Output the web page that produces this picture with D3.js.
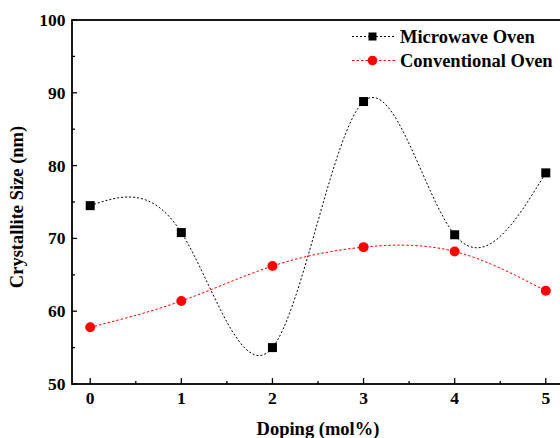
<!DOCTYPE html>
<html>
<head>
<meta charset="utf-8">
<script src="https://cdn.jsdelivr.net/npm/d3@7"></script>
<style>
  html, body { margin: 0; padding: 0; background: #fff; }
  svg { display: block; }
  text { font-family: "Liberation Serif", "Times New Roman", serif; font-weight: bold; fill: #000; }
</style>
</head>
<body>
<svg id="chart" width="560" height="438"></svg>
<script>
// Crystallite size versus doping level for two synthesis routes
const doping = [0, 1, 2, 3, 4, 5];
const microwave = [74.5, 70.8, 55.0, 88.8, 70.5, 79.0];
const conventional = [57.8, 61.4, 66.2, 68.8, 68.2, 62.8];
const xTicks = [0, 1, 2, 3, 4, 5];
const yTicks = [50, 60, 70, 80, 90, 100];
const seriesNames = ["Microwave Oven", "Conventional Oven"];

const svg = d3.select("#chart");
const plotLeft = 72, plotRight = 564, plotTop = 20, plotBottom = 384;
const tickFont = 17.5, titleFont = 18.5;

const x = d3.scaleLinear().domain([-0.2, 5.2]).range([plotLeft, plotRight]);
const y = d3.scaleLinear().domain([50, 100]).range([plotBottom, plotTop]);

// frame
svg.append("rect")
  .attr("x", plotLeft).attr("y", plotTop)
  .attr("width", plotRight - plotLeft).attr("height", plotBottom - plotTop)
  .attr("fill", "none").attr("stroke", "#000").attr("stroke-width", 1.8);

// y axis: major ticks inward with labels, minor ticks between
const yMinor = d3.range(55, 100, 10);
svg.append("g").selectAll("line").data(yTicks).join("line")
  .attr("x1", plotLeft).attr("x2", plotLeft + 5)
  .attr("y1", d => y(d)).attr("y2", d => y(d))
  .attr("stroke", "#000").attr("stroke-width", 1.3);
svg.append("g").selectAll("line").data(yMinor).join("line")
  .attr("x1", plotLeft).attr("x2", plotLeft + 3)
  .attr("y1", d => y(d)).attr("y2", d => y(d))
  .attr("stroke", "#000").attr("stroke-width", 1.3);
svg.append("g").selectAll("text").data(yTicks).join("text")
  .attr("x", plotLeft - 6.5).attr("y", d => y(d) + 6)
  .attr("text-anchor", "end").attr("font-size", tickFont)
  .text(d => d);

// x axis
const xMinor = d3.range(0.5, 5, 1);
svg.append("g").selectAll("line").data(xTicks).join("line")
  .attr("x1", d => x(d)).attr("x2", d => x(d))
  .attr("y1", plotBottom).attr("y2", plotBottom - 6)
  .attr("stroke", "#000").attr("stroke-width", 1.3);
svg.append("g").selectAll("line").data(xMinor).join("line")
  .attr("x1", d => x(d)).attr("x2", d => x(d))
  .attr("y1", plotBottom).attr("y2", plotBottom - 3)
  .attr("stroke", "#000").attr("stroke-width", 1.3);
svg.append("g").selectAll("text").data(xTicks).join("text")
  .attr("x", d => x(d)).attr("y", 404)
  .attr("text-anchor", "middle").attr("font-size", tickFont)
  .text(d => d);

// axis titles
svg.append("text")
  .attr("transform", "translate(23,207) rotate(-90)")
  .attr("text-anchor", "middle").attr("font-size", titleFont)
  .text("Crystallite Size (nm)");
svg.append("text")
  .attr("x", (plotLeft + plotRight) / 2).attr("y", 435)
  .attr("text-anchor", "middle").attr("font-size", titleFont)
  .text("Doping (mol%)");

// series
const line = d3.line().curve(d3.curveNatural).x(d => x(d[0])).y(d => y(d[1]));
const mwData = doping.map((d, i) => [d, microwave[i]]);
const cvData = doping.map((d, i) => [d, conventional[i]]);

svg.append("path").datum(mwData).attr("d", line)
  .attr("fill", "none").attr("stroke", "#000").attr("stroke-width", 1)
  .attr("stroke-dasharray", "2,2");
svg.append("path").datum(cvData).attr("d", line)
  .attr("fill", "none").attr("stroke", "#ff0000").attr("stroke-width", 1)
  .attr("stroke-dasharray", "2.5,2");

svg.append("g").selectAll("rect").data(mwData).join("rect")
  .attr("x", d => x(d[0]) - 4.5).attr("y", d => y(d[1]) - 4.5)
  .attr("width", 9).attr("height", 9).attr("fill", "#000");
svg.append("g").selectAll("circle").data(cvData).join("circle")
  .attr("cx", d => x(d[0])).attr("cy", d => y(d[1])).attr("r", 5)
  .attr("fill", "#ff0000");

// legend
const legend = svg.append("g");
const legendRows = [
  { name: seriesNames[0], color: "#000", dash: "2,2", marker: "square", y: 36.5 },
  { name: seriesNames[1], color: "#ff0000", dash: "2.5,2", marker: "circle", y: 60.5 }
];
legendRows.forEach(r => {
  legend.append("line")
    .attr("x1", 352).attr("x2", 396).attr("y1", r.y).attr("y2", r.y)
    .attr("stroke", r.color).attr("stroke-width", 1).attr("stroke-dasharray", r.dash);
  if (r.marker === "square") {
    legend.append("rect").attr("x", 368.5).attr("y", r.y - 4)
      .attr("width", 8).attr("height", 8).attr("fill", r.color);
  } else {
    legend.append("circle").attr("cx", 372.5).attr("cy", r.y).attr("r", 4.8).attr("fill", r.color);
  }
  legend.append("text").attr("x", 400).attr("y", r.y + 6)
    .attr("font-size", titleFont).text(r.name);
});
</script>
</body>
</html>
